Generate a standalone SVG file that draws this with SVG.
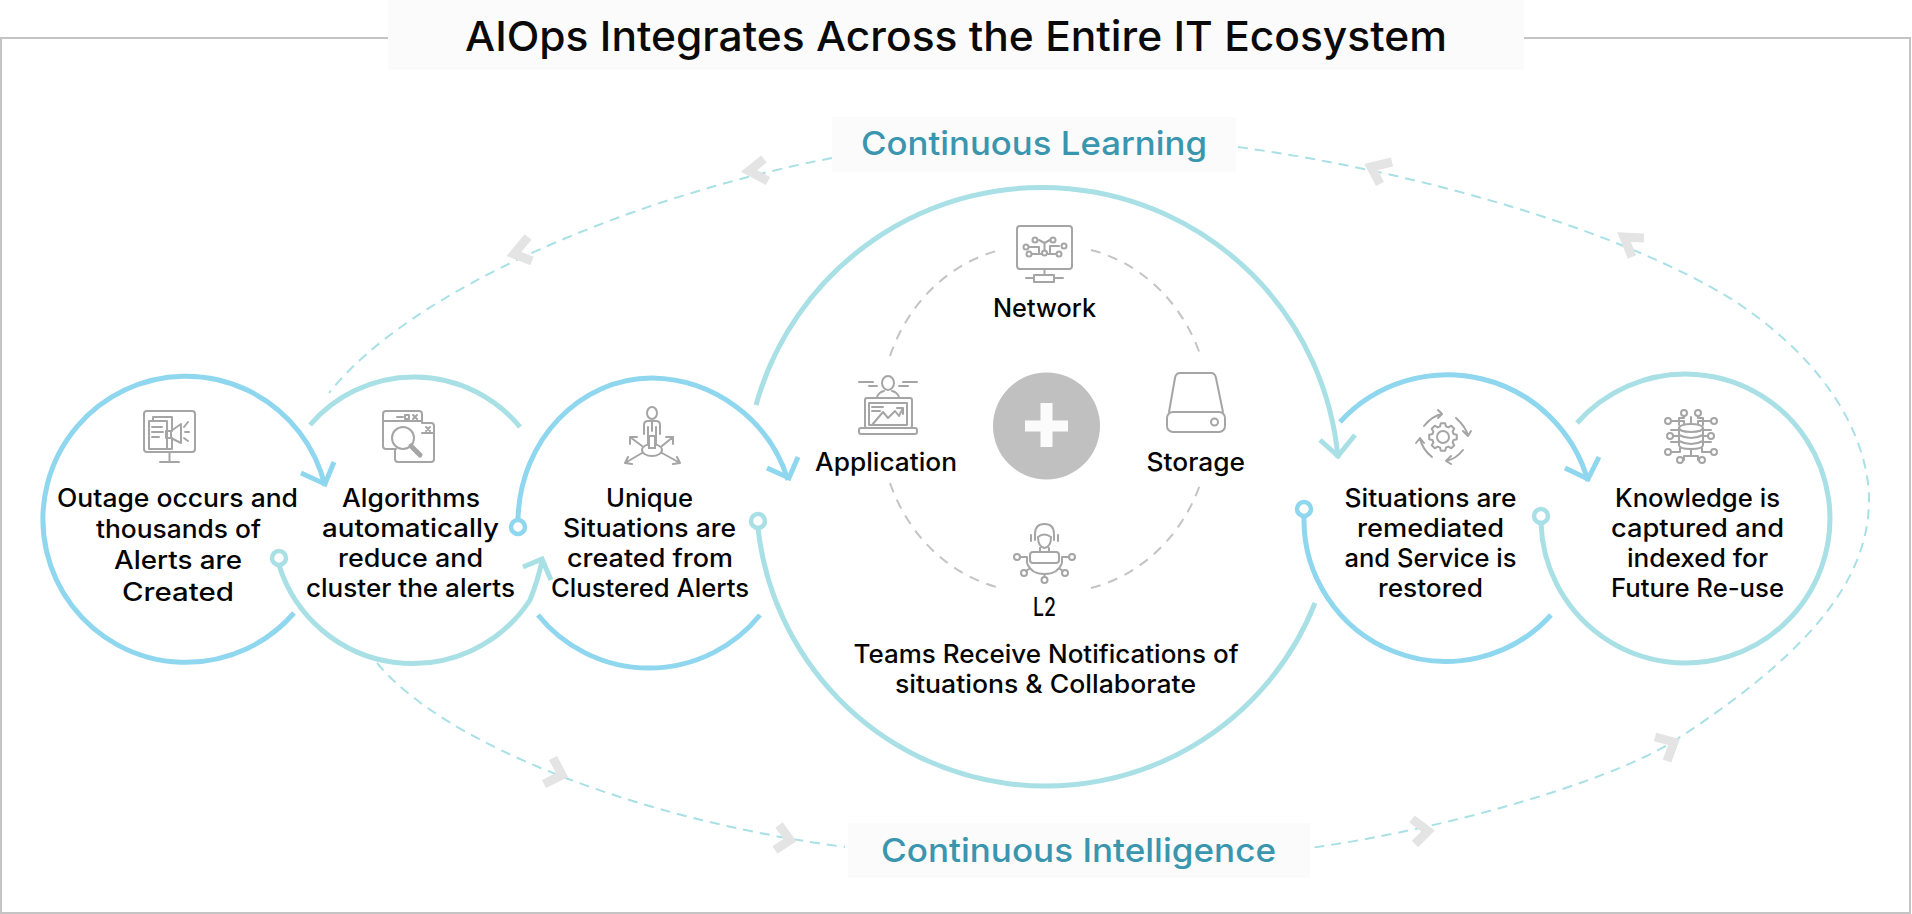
<svg xmlns="http://www.w3.org/2000/svg" width="1912" height="914" viewBox="0 0 1912 914">
<style>
text{font-family:"Inter","Noto Sans","Liberation Sans",sans-serif;text-anchor:middle}
.b{font-size:25px;font-weight:450;fill:#050505}
.t{font-size:41px;font-weight:500;fill:#0a0a0a}
.l{font-size:33px;font-weight:500;fill:#3a96ae}
.blue,.teal{fill:none;stroke-width:5}
.blue{stroke:#8fd6ef}
.teal{stroke:#a8e0e6}
.ring{fill:#fff;stroke-width:4.5}
.dash{fill:none;stroke:#a8e0e6;stroke-width:2;stroke-dasharray:10 7}
.gdash{fill:none;stroke:#c4c4c4;stroke-width:2;stroke-dasharray:10 8}
.chev{fill:none;stroke:#e4e4e4;stroke-width:9;stroke-linejoin:miter}
.ic{fill:none;stroke:#a5a5a5;stroke-width:2;stroke-linejoin:round;stroke-linecap:round}
.icb{fill:#fff;stroke:#a5a5a5;stroke-width:2;stroke-linejoin:round}
</style>
<rect width="1912" height="914" fill="#fff"/>
<path d="M388 38H1V913H1910V38H1524" fill="none" stroke="#c4c4c4" stroke-width="2"/>

<g id="connectors">
<path class="dash" d="M832 158C630 197 410 290 329 393"/>
<path class="dash" d="M1238 147C1420 172 1620 230 1733 300C1840 370 1869 450 1869 500C1869 585 1800 660 1671 743C1600 785 1440 830 1310 848"/>
<path class="dash" d="M377 663C445 745 640 820 845 847"/>
<polyline class="chev" points="764,159 749,171 768,181"/>
<polyline class="chev" points="528,237 514,254 532,261"/>
<polyline class="chev" points="1392,162 1371,167 1380,184"/>
<polyline class="chev" points="1644,238 1624,237 1632,257"/>
<polyline class="chev" points="553,758 562,775 544,784"/>
<polyline class="chev" points="779,825 790,840 775,850"/>
<polyline class="chev" points="1412,819 1428,831 1415,844"/>
<polyline class="chev" points="1655,737 1674,742 1667,761"/>
<path class="blue" d="M294 613A143 143 0 1 1 325 486"/>
<polyline class="blue" points="301,473 325,484 334,462"/>
<path class="teal" d="M310 425A137 137 0 0 1 520 427"/>
<path class="teal" d="M279 565A140 140 0 0 0 530 600Q538 580 542 561"/>
<polyline class="teal" points="523,567 542,559 551,580"/>
<circle class="ring" cx="279" cy="558" r="7" stroke="#a8e0e6"/>
<path class="blue" d="M518 519C520 440 580 378 652 378A145 145 0 0 1 788 480"/>
<polyline class="blue" points="767,468 789,478 798,457"/>
<circle class="ring" cx="518" cy="527" r="7" stroke="#8fd6ef"/>
<path class="blue" d="M538 615A142.700 142.700 0 0 0 760 615"/>
<path class="teal" d="M756 405A297 297 0 0 1 1338 458"/>
<polyline class="teal" points="1320,440 1338,456 1355,435"/>
<path class="teal" d="M758 528A289.500 289.500 0 0 0 1315 603"/>
<circle class="ring" cx="758" cy="521" r="7" stroke="#a8e0e6"/>
<path class="blue" d="M1340 422A146 146 0 0 1 1588 481"/>
<polyline class="blue" points="1565,468 1588,479 1599,457"/>
<path class="blue" d="M1304 516A142 142 0 0 0 1551 615"/>
<circle class="ring" cx="1304" cy="509" r="7" stroke="#8fd6ef"/>
<path class="teal" d="M1577 423A144.500 144.500 0 1 1 1541 523"/>
<circle class="ring" cx="1541" cy="516" r="7" stroke="#a8e0e6"/>
<path class="gdash" d="M890 356A155 169 0 0 1 1000 250"/>
<path class="gdash" d="M1091 250A155 169 0 0 1 1200.600 356"/>
<path class="gdash" d="M890 483A155 169 0 0 0 1000 588"/>
<path class="gdash" d="M1091 588A155 169 0 0 0 1200.600 483"/>
</g>

<g id="title"><rect x="388" y="0" width="1136" height="70" fill="#fbfbfb"/>
<text class="t" x="956" y="51" textLength="982" lengthAdjust="spacingAndGlyphs">AIOps Integrates Across the Entire IT Ecosystem</text></g>
<g id="learning"><rect x="832" y="117" width="404" height="55" fill="#fbfbfb"/>
<text class="l" x="1034" y="155" textLength="346" lengthAdjust="spacingAndGlyphs">Continuous Learning</text></g>
<g id="intelligence"><rect x="848" y="823" width="462" height="55" fill="#fbfbfb"/>
<text class="l" x="1078.500" y="862" textLength="395" lengthAdjust="spacingAndGlyphs">Continuous Intelligence</text></g>

<g id="outage">
<g class="ic"><rect class="ic" x="144" y="411" width="51" height="41" rx="3"/><path class="ic" d="M169.500 452V462M160 462H179"/>
<path class="ic" d="M153 421V417H172V431M172 438V449H153"/><rect class="ic" x="149" y="421" width="18" height="28"/><path class="ic" d="M152 427H162M152 432H163M152 437H159"/>
<path class="ic" d="M166 431H171V438H166ZM171 431L181 424V443L171 438M184 427L188 422M185 432H189M184 438L188 441"/></g>
<text class="b" x="177.500" y="507" textLength="241" lengthAdjust="spacingAndGlyphs">Outage occurs and</text>
<text class="b" x="178.500" y="538" textLength="165" lengthAdjust="spacingAndGlyphs">thousands of</text>
<text class="b" x="178" y="569" textLength="128" lengthAdjust="spacingAndGlyphs">Alerts are</text>
<text class="b" x="178" y="601" textLength="112" lengthAdjust="spacingAndGlyphs">Created</text>
</g>
<g id="algorithms">
<path class="ic" d="M396 449H386Q383 449 383 446V414Q383 411 386 411H419Q422 411 422 414V423M383 421H422M397 417H403M405 415H409V419H405ZM413 415L417 419M417 415L413 419M422 423H431Q434 423 434 426V459Q434 462 431 462H398Q395 462 395 459V449M422 433H434M426 427L430 431M430 427L426 431"/>
<circle class="icb" cx="403" cy="438" r="11"/><path d="M411 446L420 455" fill="none" stroke="#a5a5a5" stroke-width="5" stroke-linecap="round"/>
<text class="b" x="411" y="507" textLength="138" lengthAdjust="spacingAndGlyphs">Algorithms</text>
<text class="b" x="410.500" y="537" textLength="177" lengthAdjust="spacingAndGlyphs">automatically</text>
<text class="b" x="410.500" y="567" textLength="145" lengthAdjust="spacingAndGlyphs">reduce and</text>
<text class="b" x="410.500" y="597" textLength="209" lengthAdjust="spacingAndGlyphs">cluster the alerts</text>
</g>
<g id="unique">
<g><ellipse class="ic" cx="652" cy="413" rx="5" ry="6"/><path class="ic" d="M644 434V425Q644 421 648 421H656Q660 421 660 425V434M648 427V447H656V427M652 421V431"/><ellipse class="icb" cx="652" cy="450" rx="10" ry="6"/><rect x="649" y="436" width="6" height="12" fill="#fff" stroke="#a5a5a5" stroke-width="2"/>
<path class="ic" d="M642 446L630 437M630 437V444M630 437H637M662 446L673 437M673 437V444M673 437H666M642 453L625 463M625 463L632 464M625 463L628 457M662 453L680 463M680 463L673 464M680 463L677 457"/></g>
<text class="b" x="649.500" y="507" textLength="87" lengthAdjust="spacingAndGlyphs">Unique</text>
<text class="b" x="649.500" y="537" textLength="173" lengthAdjust="spacingAndGlyphs">Situations are</text>
<text class="b" x="650" y="567" textLength="166" lengthAdjust="spacingAndGlyphs">created from</text>
<text class="b" x="650" y="597" textLength="198" lengthAdjust="spacingAndGlyphs">Clustered Alerts</text>
</g>
<g id="plus"><circle cx="1046.500" cy="426" r="53.500" fill="#c0c0c0"/><path d="M1025 420.500H1040.500V403H1052.500V420.500H1068V431.500H1052.500V447H1040.500V431.500H1025Z" fill="#fbfbfb"/></g>
<g id="network">
<rect class="ic" x="1017" y="226" width="55" height="43" rx="3"/><path class="ic" d="M1044.500 269V275M1034 275H1054V282H1034ZM1026 278H1034M1054 278H1063M1044.500 253V243L1039 240M1044.500 243L1050 240M1029 247H1039V253M1059 246H1050V253M1032 254H1041M1056 254H1048"/>
<g class="ic"><circle class="icb" cx="1035" cy="240" r="2.500"/><circle class="icb" cx="1053" cy="240" r="2.500"/><circle class="icb" cx="1026" cy="247" r="2.500"/><circle class="icb" cx="1064" cy="246" r="2.500"/><circle class="icb" cx="1029" cy="254" r="2.500"/><circle class="icb" cx="1059" cy="254" r="2.500"/><circle class="icb" cx="1044.500" cy="253" r="2.500"/></g>
<text class="b" x="1044.500" y="317" textLength="103" lengthAdjust="spacingAndGlyphs">Network</text>
</g>
<g id="application">
<ellipse class="ic" cx="888" cy="383" rx="6" ry="7"/><path class="ic" d="M877 397Q879 392 884 391M892 391Q897 392 899 397M859 382H873M869 386H877M899 386H908M903 382H917"/>
<rect class="ic" x="865" y="398" width="47" height="30" rx="2"/><rect class="ic" x="869" y="403" width="38" height="22"/><rect class="ic" x="859" y="428" width="58" height="6" rx="2"/>
<path class="ic" d="M872 425L883 412L888 418L895 411L899 416L903 408M897 408H903V414M872 407H883M872 411H880"/>
<text class="b" x="886" y="471" textLength="142" lengthAdjust="spacingAndGlyphs">Application</text>
</g>
<g id="storage">
<path class="ic" d="M1169 412L1175 378Q1176 373 1180 373H1211Q1215 373 1216 378L1223 412"/><rect class="ic" x="1167" y="412" width="58" height="20" rx="6"/><circle class="ic" cx="1214.500" cy="422" r="3.500"/>
<text class="b" x="1195.800" y="471" textLength="98.500" lengthAdjust="spacingAndGlyphs">Storage</text>
</g>
<g id="l2">
<path class="ic" d="M1035 540V534Q1035 524 1044.500 524Q1054 524 1054 534V540M1038 537Q1044 532 1051 537Q1051 547 1044.500 548Q1038 547 1038 537M1031 541V535M1058 541V535M1040 548V552M1049 548V552"/>
<rect class="ic" x="1030" y="552" width="29" height="11" rx="3"/><path class="ic" d="M1027 563Q1031 574 1044.500 574Q1058 574 1062 563M1020 557H1027V563M1069 557H1062V563M1044.500 574V577M1029 569L1026 571M1060 569L1063 571"/>
<circle class="ic" cx="1017" cy="557" r="3"/><circle class="ic" cx="1072" cy="557" r="3"/><circle class="ic" cx="1024" cy="573" r="3"/><circle class="ic" cx="1065" cy="573" r="3"/><circle class="ic" cx="1044.500" cy="580" r="3"/>
<text class="b" x="1044.500" y="616" textLength="23" lengthAdjust="spacingAndGlyphs">L2</text>
<text class="b" x="1046" y="663" textLength="385" lengthAdjust="spacingAndGlyphs">Teams Receive Notifications of</text>
<text class="b" x="1045.500" y="693" textLength="301" lengthAdjust="spacingAndGlyphs">situations &amp; Collaborate</text>
</g>
<g id="situations">
<g transform="translate(1443 437)"><path class="ic" d="M10.600 -3L13.800 -2.200V2.200L10.600 3L9.600 5.400L11.300 8.200L8.200 11.300L5.400 9.600L3 10.600L2.200 13.800H-2.200L-3 10.600L-5.400 9.600L-8.200 11.300L-11.300 8.200L-9.600 5.400L-10.600 3L-13.800 2.200V-2.200L-10.600 -3L-9.600 -5.400L-11.300 -8.200L-8.200 -11.300L-5.400 -9.600L-3 -10.600L-2.200 -13.800H2.200L3 -10.600L5.400 -9.600L8.200 -11.300L11.300 -8.200L9.600 -5.400Z"/><circle class="ic" r="6"/>
<path class="ic" d="M-19 -11Q-11 -21 -1 -23M-5 -27L-1 -23L-5 -19M13 -19Q23 -10 25 -1M20 -6L25 -1L28 -6M20 13Q13 22 3 24M8 19L3 24L8 27M-11 20Q-21 12 -23 1M-27 6L-23 1L-19 6"/></g>
<text class="b" x="1430.500" y="507" textLength="172" lengthAdjust="spacingAndGlyphs">Situations are</text>
<text class="b" x="1430.500" y="537" textLength="147" lengthAdjust="spacingAndGlyphs">remediated</text>
<text class="b" x="1430.500" y="567" textLength="172" lengthAdjust="spacingAndGlyphs">and Service is</text>
<text class="b" x="1430.500" y="597" textLength="105" lengthAdjust="spacingAndGlyphs">restored</text>
</g>
<g id="knowledge">
<path class="ic" d="M1679 425V418H1684V413M1703 425V418H1698V413M1691 425V417M1671 421H1684V425M1711 421H1698V425M1673 436H1708M1671 430H1711M1671 442H1711M1671 452H1680V448M1711 452H1702V448M1691 448V456H1684V460M1691 456H1698V460"/>
<ellipse class="icb" cx="1691" cy="428" rx="12" ry="4"/><path class="icb" d="M1679 428V445Q1679 449 1691 449Q1703 449 1703 445V428Q1703 432 1691 432Q1679 432 1679 428Z"/><path class="ic" d="M1679 435Q1691 441 1703 435M1679 441Q1691 447 1703 441"/>
<circle class="icb" cx="1684" cy="413" r="3"/><circle class="icb" cx="1698" cy="413" r="3"/><circle class="icb" cx="1668" cy="421" r="3"/><circle class="icb" cx="1714" cy="421" r="3"/><circle class="icb" cx="1670" cy="436" r="3"/><circle class="icb" cx="1711" cy="436" r="3"/><circle class="icb" cx="1668" cy="452" r="3"/><circle class="icb" cx="1714" cy="452" r="3"/><circle class="icb" cx="1680" cy="460" r="3"/><circle class="icb" cx="1702" cy="460" r="3"/>
<text class="b" x="1697.500" y="507" textLength="165" lengthAdjust="spacingAndGlyphs">Knowledge is</text>
<text class="b" x="1697.500" y="537" textLength="173" lengthAdjust="spacingAndGlyphs">captured and</text>
<text class="b" x="1697.500" y="567" textLength="141" lengthAdjust="spacingAndGlyphs">indexed for</text>
<text class="b" x="1697.500" y="597" textLength="173" lengthAdjust="spacingAndGlyphs">Future Re-use</text>
</g>
</svg>
